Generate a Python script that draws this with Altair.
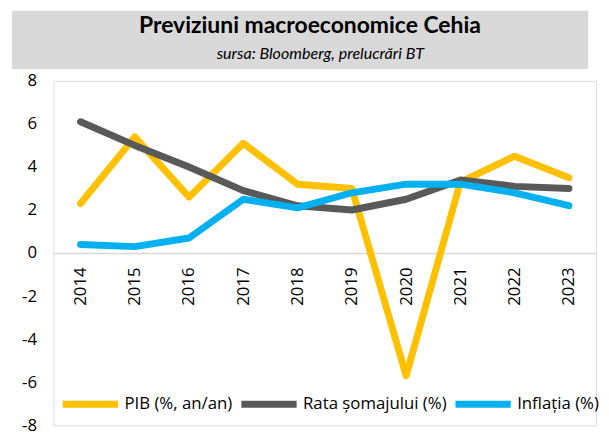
import altair as alt
import pandas as pd

years = [str(y) for y in range(2014, 2024)]
pib = [2.3, 5.4, 2.6, 5.1, 3.2, 3.0, -5.7, 3.3, 4.5, 3.5]
somaj = [6.1, 5.0, 4.0, 2.9, 2.2, 2.0, 2.5, 3.4, 3.1, 3.0]
inflatie = [0.4, 0.3, 0.7, 2.5, 2.1, 2.8, 3.2, 3.2, 2.8, 2.2]
series_names = ["PIB (%, an/an)", "Rata șomajului (%)", "Inflația (%)"]
series_colors = ["#FFC000", "#595959", "#00B0F0"]
title_text = "Previziuni macroeconomice Cehia"
subtitle_text = "sursa: Bloomberg, prelucrări BT"

rows = []
for name, vals in zip(series_names, [pib, somaj, inflatie]):
    for y, v in zip(years, vals):
        rows.append({"year": y, "value": v, "series": name})
df = pd.DataFrame(rows)

FONT = "Open Sans"
TFONT = "Lato"
W, H = 550, 349

lines = alt.Chart(df).mark_line(strokeWidth=7, strokeCap="round", strokeJoin="round").encode(
    x=alt.X("year:O", title=None,
            axis=alt.Axis(labelAngle=270, offset=-H / 2, ticks=False, domainColor="#d9d9d9",
                          domainWidth=1.5, labelPadding=14, labelFontSize=17, labelColor="#000000",
                          labelFont=FONT)),
    y=alt.Y("value:Q", title=None, scale=alt.Scale(domain=[-8, 8], nice=False),
            axis=alt.Axis(values=list(range(-8, 9, 2)), grid=False, domain=False, ticks=False,
                          labelFontSize=17, labelPadding=17, labelColor="#000000", labelFont=FONT,
                          labelExpr="'' + datum.value")),
    color=alt.Color("series:N", sort=series_names,
                    scale=alt.Scale(domain=series_names, range=series_colors),
                    legend=alt.Legend(title=None, orient="none", legendX=6, legendY=296,
                                      direction="horizontal", symbolType="stroke",
                                      symbolSize=3136, symbolStrokeWidth=7, labelFontSize=17,
                                      labelFont=FONT, labelColor="#000000", columnPadding=-6,
                                      labelOffset=3)),
    order=alt.Order("year:O"),
)

band = alt.Chart(pd.DataFrame({"a": [0]})).mark_rect(color="#d9d9d9").encode(
    x=alt.value(-42), x2=alt.value(542), y=alt.value(-71), y2=alt.value(-12)
)
title = alt.Chart(pd.DataFrame({"t": [title_text]})).mark_text(
    font=TFONT, fontSize=23.2, fontWeight="bold", color="#000000", align="center",
    baseline="alphabetic"
).encode(x=alt.value(260), y=alt.value(-49), text="t:N")
subtitle = alt.Chart(pd.DataFrame({"t": [subtitle_text]})).mark_text(
    font=TFONT, fontSize=16.3, fontStyle="italic", color="#000000", align="center",
    baseline="alphabetic"
).encode(x=alt.value(270.5), y=alt.value(-22), text="t:N")

chart = alt.layer(band, title, subtitle, lines).properties(
    width=W, height=H,
    autosize=alt.AutoSizeParams(type="none"),
    padding={"left": 46, "top": 71, "right": 5, "bottom": 4},
).configure_view(stroke="#d9d9d9", strokeWidth=1.5).configure(background="white")

chart.save("out.html", embed_options={"renderer": "svg", "actions": False})
